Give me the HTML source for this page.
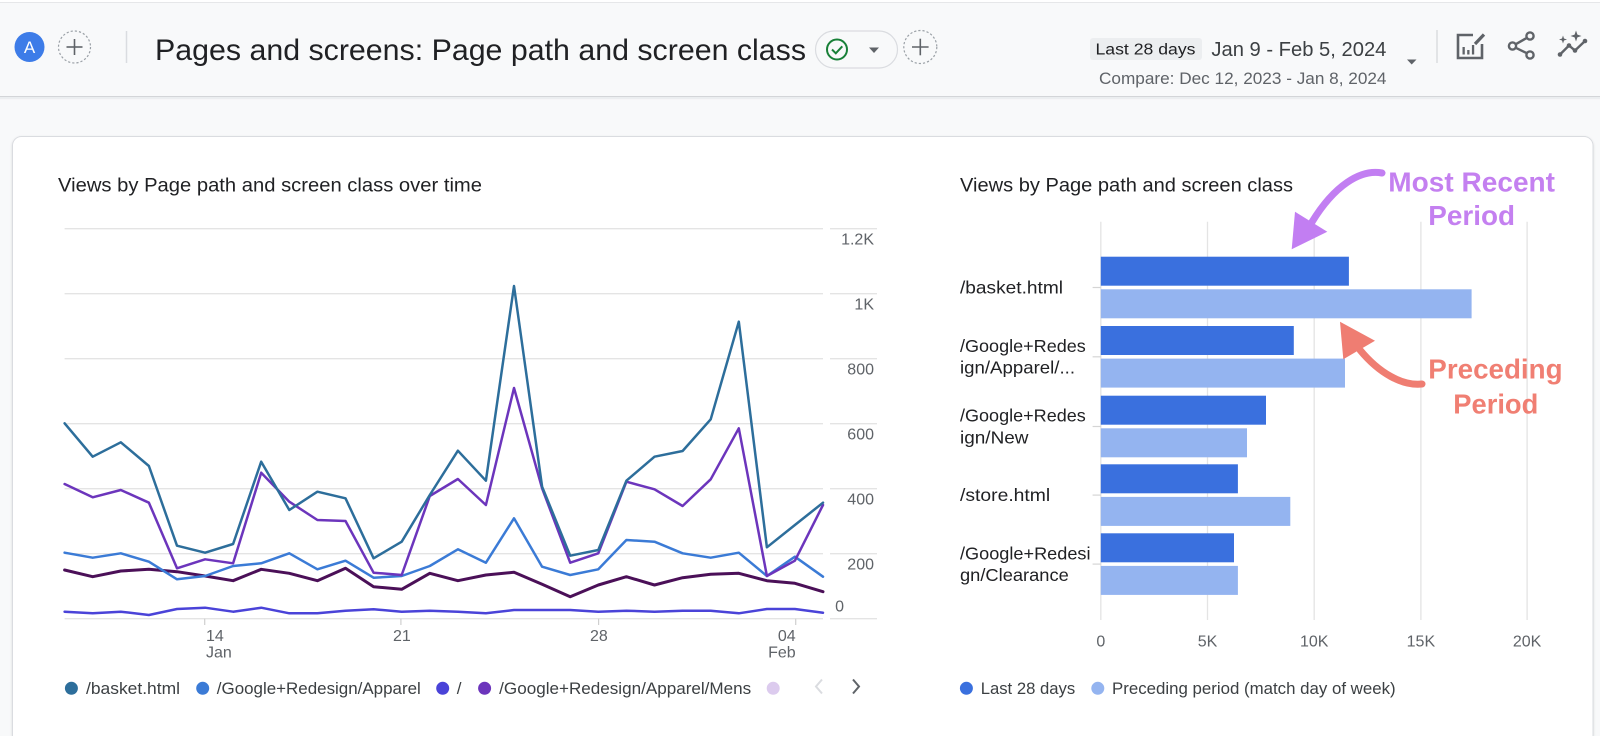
<!DOCTYPE html>
<html>
<head>
<meta charset="utf-8">
<style>
html,body{margin:0;padding:0;width:1600px;height:736px;overflow:hidden;background:#f8f9fa;}
svg{display:block;font-family:"Liberation Sans",Arial,sans-serif;}
</style>
</head>
<body>
<svg width="1600" height="736" viewBox="0 0 1600 736" xmlns="http://www.w3.org/2000/svg">
  <defs>
    <filter id="sh" x="-2%" y="-2%" width="104%" height="104%">
      <feDropShadow dx="0" dy="1" stdDeviation="1.2" flood-color="#000" flood-opacity="0.12"/>
    </filter>
  </defs>
  <!-- backgrounds -->
  <rect x="0" y="0" width="1600" height="736" fill="#f8f9fa"/>
  <rect x="0" y="0" width="1600" height="2" fill="#ffffff"/>
  <line x1="0" y1="2.5" x2="1600" y2="2.5" stroke="#e6e7e9" stroke-width="1"/>
  <rect x="0" y="96" width="1600" height="1.2" fill="#d3d5d8"/>
  <rect x="0" y="97.2" width="1600" height="2" fill="#eceef0"/>

  <!-- header left -->
  <circle cx="29.5" cy="47" r="15" fill="#3d7ce8"/>
  <text x="29.5" y="53" font-size="17" fill="#ffffff" text-anchor="middle">A</text>
  <circle cx="74.5" cy="47" r="16" fill="none" stroke="#9aa0a6" stroke-width="1.2" stroke-dasharray="2.2,2"/>
  <line x1="66.5" y1="47" x2="82.5" y2="47" stroke="#5f6368" stroke-width="1.6"/>
  <line x1="74.5" y1="39" x2="74.5" y2="55" stroke="#5f6368" stroke-width="1.6"/>
  <line x1="126.5" y1="31" x2="126.5" y2="63" stroke="#dadce0" stroke-width="1.5"/>
  <text x="155" y="60" font-size="30" fill="#202124" textLength="651" lengthAdjust="spacingAndGlyphs">Pages and screens: Page path and screen class</text>

  <rect x="815.5" y="31" width="82" height="37" rx="18.5" fill="#f8f9fa" stroke="#dadce0" stroke-width="1.2"/>
  <circle cx="837" cy="49.5" r="10" fill="none" stroke="#188038" stroke-width="2"/>
  <path d="M832,49.5 L835.8,53.3 L842.3,46.3" fill="none" stroke="#188038" stroke-width="2"/>
  <polygon points="869,47.5 879,47.5 874,53" fill="#5f6368"/>
  <circle cx="920.3" cy="47" r="16.5" fill="none" stroke="#9aa0a6" stroke-width="1.2" stroke-dasharray="2.2,2"/>
  <line x1="912" y1="47" x2="928.6" y2="47" stroke="#5f6368" stroke-width="1.6"/>
  <line x1="920.3" y1="38.7" x2="920.3" y2="55.3" stroke="#5f6368" stroke-width="1.6"/>

  <!-- header right -->
  <rect x="1090" y="38" width="112" height="22" rx="3" fill="#eceef0"/>
  <text x="1095.5" y="54.5" font-size="15.5" fill="#202124" textLength="100" lengthAdjust="spacingAndGlyphs">Last 28 days</text>
  <text x="1211.4" y="56" font-size="20" fill="#3c4043" textLength="175" lengthAdjust="spacingAndGlyphs">Jan 9 - Feb 5, 2024</text>
  <text x="1099" y="84" font-size="16.5" fill="#5f6368" textLength="287.5" lengthAdjust="spacingAndGlyphs">Compare: Dec 12, 2023 - Jan 8, 2024</text>
  <polygon points="1407,59.5 1416.5,59.5 1411.7,64.5" fill="#5f6368"/>
  <line x1="1437" y1="30" x2="1437" y2="63" stroke="#dadce0" stroke-width="1.5"/>
  <!-- report icon -->
  <path d="M1473,35 H1458 V58 H1482 V44" fill="none" stroke="#5f6368" stroke-width="2.6"/>
  <rect x="1462.5" y="47" width="2.3" height="7.5" fill="#5f6368"/>
  <rect x="1467.2" y="50" width="2.3" height="4.5" fill="#5f6368"/>
  <rect x="1471.9" y="45" width="2.3" height="9.5" fill="#5f6368"/>
  <line x1="1475" y1="44" x2="1484" y2="34.5" stroke="#5f6368" stroke-width="3.2"/>
  <!-- share icon -->
  <g fill="none" stroke="#5f6368" stroke-width="2.4">
    <circle cx="1530" cy="36" r="3.6"/>
    <circle cx="1512.5" cy="46" r="3.6"/>
    <circle cx="1530" cy="55" r="3.6"/>
    <line x1="1515.8" y1="44.2" x2="1526.8" y2="37.9"/>
    <line x1="1515.8" y1="47.8" x2="1526.8" y2="53.2"/>
  </g>
  <!-- insights icon -->
  <polyline points="1560,54.5 1569,45.5 1575,50.5 1585,41" fill="none" stroke="#5f6368" stroke-width="2.4"/>
  <circle cx="1560" cy="54.5" r="2.3" fill="#5f6368"/>
  <circle cx="1569" cy="45.5" r="2.3" fill="#5f6368"/>
  <circle cx="1575" cy="50.5" r="2.3" fill="#5f6368"/>
  <circle cx="1585" cy="41" r="2.3" fill="#5f6368"/>
  <path d="M1563,35.5 L1564,38.5 L1567,39.5 L1564,40.5 L1563,43.5 L1562,40.5 L1559,39.5 L1562,38.5 Z" fill="#5f6368"/>
  <path d="M1576,30.5 L1577.4,34.6 L1581.5,36 L1577.4,37.4 L1576,41.5 L1574.6,37.4 L1570.5,36 L1574.6,34.6 Z" fill="#5f6368"/>

  <!-- card (open at bottom) -->
  <path d="M12.5,736 V145.5 A9,9 0 0 1 21.5,136.5 H1584 A9,9 0 0 1 1593,145.5 V736" fill="#ffffff" stroke="#dadce0" stroke-width="1" filter="url(#sh)"/>

  <!-- LEFT CHART -->
  <text x="58" y="191.5" font-size="19" fill="#202124" textLength="424" lengthAdjust="spacingAndGlyphs">Views by Page path and screen class over time</text>
  <g stroke="#e4e4e4" stroke-width="1.3">
    <line x1="64.6" y1="228.7" x2="823" y2="228.7"/><line x1="830" y1="228.7" x2="877" y2="228.7"/>
    <line x1="64.6" y1="293.7" x2="823" y2="293.7"/><line x1="830" y1="293.7" x2="877" y2="293.7"/>
    <line x1="64.6" y1="358.7" x2="823" y2="358.7"/><line x1="830" y1="358.7" x2="877" y2="358.7"/>
    <line x1="64.6" y1="423.7" x2="823" y2="423.7"/><line x1="830" y1="423.7" x2="877" y2="423.7"/>
    <line x1="64.6" y1="488.7" x2="823" y2="488.7"/><line x1="830" y1="488.7" x2="877" y2="488.7"/>
    <line x1="64.6" y1="553.7" x2="823" y2="553.7"/><line x1="830" y1="553.7" x2="877" y2="553.7"/>
    <line x1="64.6" y1="618.7" x2="823" y2="618.7"/><line x1="830" y1="618.7" x2="877" y2="618.7"/>
  </g>
  <g stroke="#cfcfcf" stroke-width="1.2">
    <line x1="204.7" y1="618.7" x2="204.7" y2="625"/>
    <line x1="400.9" y1="618.7" x2="400.9" y2="625"/>
    <line x1="598.6" y1="618.7" x2="598.6" y2="625"/>
    <line x1="795.7" y1="618.7" x2="795.7" y2="625"/>
  </g>
  <g font-size="16" fill="#5f6368" text-anchor="end">
    <text x="874" y="244.7">1.2K</text>
    <text x="874" y="309.7">1K</text>
    <text x="874" y="374.7">800</text>
    <text x="874" y="439.7">600</text>
    <text x="874" y="504.7">400</text>
    <text x="874" y="569.7">200</text>
    <text x="844" y="611.7">0</text>
  </g>
  <g font-size="16" fill="#5f6368">
    <text x="206" y="641">14</text>
    <text x="206" y="657.5">Jan</text>
    <text x="401.9" y="641" text-anchor="middle">21</text>
    <text x="598.9" y="641" text-anchor="middle">28</text>
    <text x="795.7" y="641" text-anchor="end">04</text>
    <text x="795.7" y="657.5" text-anchor="end">Feb</text>
  </g>

  <g fill="none" stroke-linejoin="round" stroke-linecap="round">
    <polyline stroke="#4b1058" stroke-width="3" points="64.6,570 92.7,576.7 120.8,571 148.9,569.3 177,571.7 205.1,576 233.1,580.7 261.2,569.3 289.3,573.3 317.4,580.7 345.5,568.3 373.6,586.7 401.7,589.3 429.8,573.3 457.9,580.7 485.9,575 514,572.3 542.1,584.3 570.2,596.7 598.3,585 626.4,576.7 654.5,585 682.6,577.7 710.7,574.3 738.8,573.3 766.9,580.7 794.9,583.3 823,591.7"/>
    <polyline stroke="#4a43d8" stroke-width="2.5" points="64.6,611.7 92.7,613.3 120.8,611.7 148.9,615 177,609 205.1,607.7 233.1,611.7 261.2,607.7 289.3,613.3 317.4,613.3 345.5,610.7 373.6,609.3 401.7,611.7 429.8,610.7 457.9,611.7 485.9,613.3 514,610 542.1,610 570.2,610 598.3,611.7 626.4,610.7 654.5,611.7 682.6,610.7 710.7,610.7 738.8,613.3 766.9,609 794.9,609 823,612.7"/>
    <polyline stroke="#3b7bd6" stroke-width="2.5" points="64.6,552.7 92.7,557.7 120.8,553.3 148.9,561.7 177,579.3 205.1,576 233.1,566 261.2,563.3 289.3,553.3 317.4,569.3 345.5,560.7 373.6,577.7 401.7,576 429.8,566 457.9,549.3 485.9,562.7 514,518.3 542.1,566.7 570.2,575 598.3,569.3 626.4,540 654.5,541.7 682.6,553.3 710.7,557.7 738.8,552.7 766.9,576 794.9,556.7 823,576.7"/>
    <polyline stroke="#6c35bc" stroke-width="2.5" points="64.6,484 92.7,497.3 120.8,490 148.9,502.7 177,568.3 205.1,559.3 233.1,563.3 261.2,472.7 289.3,501.7 317.4,520 345.5,521 373.6,572.7 401.7,575 429.8,496 457.9,479 485.9,505 514,388 542.1,488.3 570.2,562.7 598.3,553.3 626.4,481.7 654.5,489.3 682.6,506 710.7,479.3 738.8,428.3 766.9,576 794.9,560.7 823,505"/>
    <polyline stroke="#2d6e9b" stroke-width="2.5" points="64.6,423.3 92.7,456.7 120.8,442.3 148.9,466 177,545.7 205.1,552.7 233.1,544 261.2,461.7 289.3,510 317.4,491.7 345.5,498.3 373.6,558.3 401.7,541.7 429.8,495 457.9,450.7 485.9,480.7 514,286 542.1,486.7 570.2,555.7 598.3,550 626.4,480.7 654.5,456.7 682.6,451 710.7,419.3 738.8,321.7 766.9,547.3 794.9,525 823,502.7"/>
  </g>

  <!-- left legend -->
  <circle cx="71.4" cy="688.3" r="6.5" fill="#2d6e9b"/>
  <circle cx="202.7" cy="688.3" r="6.5" fill="#3b7bd6"/>
  <circle cx="442.7" cy="688.3" r="6.5" fill="#4a43d8"/>
  <circle cx="484.6" cy="688.3" r="6.5" fill="#6c35bc"/>
  <circle cx="773.2" cy="688.3" r="6.5" fill="#dccbee"/>
  <g font-size="17" fill="#3c4043">
    <text x="86" y="694" textLength="94" lengthAdjust="spacingAndGlyphs">/basket.html</text>
    <text x="216.8" y="694" textLength="204" lengthAdjust="spacingAndGlyphs">/Google+Redesign/Apparel</text>
    <text x="456.8" y="694">/</text>
    <text x="499.2" y="694" textLength="252" lengthAdjust="spacingAndGlyphs">/Google+Redesign/Apparel/Mens</text>
  </g>
  <polyline points="822,679.5 816,686.5 822,693.5" fill="none" stroke="#dadce0" stroke-width="2"/>
  <polyline points="853,679.5 859,686.5 853,693.5" fill="none" stroke="#5f6368" stroke-width="2"/>

  <!-- RIGHT CHART -->
  <text x="960" y="191.5" font-size="19" fill="#202124" textLength="333" lengthAdjust="spacingAndGlyphs">Views by Page path and screen class</text>
  <g stroke="#e4e4e4" stroke-width="1.3">
    <line x1="1100.8" y1="221.7" x2="1100.8" y2="620"/>
    <line x1="1207.5" y1="221.7" x2="1207.5" y2="620"/>
    <line x1="1314.2" y1="221.7" x2="1314.2" y2="620"/>
    <line x1="1420.9" y1="221.7" x2="1420.9" y2="620"/>
    <line x1="1527.1" y1="221.7" x2="1527.1" y2="620"/>
  </g>
  <g stroke="#d5d5d5" stroke-width="1.2">
    <line x1="1092.6" y1="287.5" x2="1100.8" y2="287.5"/>
    <line x1="1092.6" y1="356.8" x2="1100.8" y2="356.8"/>
    <line x1="1092.6" y1="426.5" x2="1100.8" y2="426.5"/>
    <line x1="1092.6" y1="495.1" x2="1100.8" y2="495.1"/>
    <line x1="1092.6" y1="564.1" x2="1100.8" y2="564.1"/>
  </g>
  <g fill="#3a70de">
    <rect x="1100.8" y="256.7" width="248.1" height="29"/>
    <rect x="1100.8" y="326" width="193" height="29"/>
    <rect x="1100.8" y="395.7" width="165.2" height="29"/>
    <rect x="1100.8" y="464.3" width="137.1" height="29"/>
    <rect x="1100.8" y="533.3" width="133.2" height="29"/>
  </g>
  <g fill="#94b4f0">
    <rect x="1100.8" y="289.3" width="370.8" height="29"/>
    <rect x="1100.8" y="358.6" width="244.2" height="29"/>
    <rect x="1100.8" y="428.3" width="146.2" height="29"/>
    <rect x="1100.8" y="496.9" width="189.5" height="29"/>
    <rect x="1100.8" y="565.9" width="137.1" height="29"/>
  </g>
  <g font-size="17.5" fill="#202124">
    <text x="960" y="293.5" textLength="103" lengthAdjust="spacingAndGlyphs">/basket.html</text>
    <text x="960" y="352" textLength="125.8" lengthAdjust="spacingAndGlyphs">/Google+Redes</text>
    <text x="960" y="373.6" textLength="115" lengthAdjust="spacingAndGlyphs">ign/Apparel/...</text>
    <text x="960" y="421.7" textLength="125.8" lengthAdjust="spacingAndGlyphs">/Google+Redes</text>
    <text x="960" y="443.3" textLength="68.5" lengthAdjust="spacingAndGlyphs">ign/New</text>
    <text x="960" y="501.1" textLength="90.2" lengthAdjust="spacingAndGlyphs">/store.html</text>
    <text x="960" y="559.3" textLength="130.5" lengthAdjust="spacingAndGlyphs">/Google+Redesi</text>
    <text x="960" y="580.9" textLength="108.8" lengthAdjust="spacingAndGlyphs">gn/Clearance</text>
  </g>
  <g font-size="16" fill="#5f6368" text-anchor="middle">
    <text x="1100.8" y="646.7">0</text>
    <text x="1207.5" y="646.7">5K</text>
    <text x="1314.2" y="646.7">10K</text>
    <text x="1420.9" y="646.7">15K</text>
    <text x="1527.1" y="646.7">20K</text>
  </g>
  <circle cx="966.4" cy="688.3" r="6.5" fill="#3a70de"/>
  <circle cx="1097.8" cy="688.3" r="6.5" fill="#94b4f0"/>
  <g font-size="17" fill="#3c4043">
    <text x="980.7" y="694" textLength="94.5" lengthAdjust="spacingAndGlyphs">Last 28 days</text>
    <text x="1112" y="694" textLength="283.6" lengthAdjust="spacingAndGlyphs">Preceding period (match day of week)</text>
  </g>

  <!-- annotations -->
  <path d="M1382,173 C1360,169 1334,186 1312,222" fill="none" stroke="#c27ef2" stroke-width="7" stroke-linecap="round"/>
  <polygon points="1291.7,249.3 1295,211.7 1327.3,231.7" fill="#c27ef2"/>
  <g font-size="28" font-weight="bold" fill="#c480f0">
    <text x="1388.3" y="191.7" textLength="166.7" lengthAdjust="spacingAndGlyphs">Most Recent</text>
    <text x="1428.3" y="225" textLength="86.7" lengthAdjust="spacingAndGlyphs">Period</text>
  </g>
  <path d="M1422,384 C1402,386 1379,373 1360,350" fill="none" stroke="#ef7d72" stroke-width="7" stroke-linecap="round"/>
  <polygon points="1340,321.7 1343.3,359.3 1375,340.7" fill="#ef7d72"/>
  <g font-size="28" font-weight="bold" fill="#f07f73">
    <text x="1428.3" y="378.5" textLength="134.3" lengthAdjust="spacingAndGlyphs">Preceding</text>
    <text x="1453.3" y="413.5" textLength="85" lengthAdjust="spacingAndGlyphs">Period</text>
  </g>
</svg>
</body>
</html>
